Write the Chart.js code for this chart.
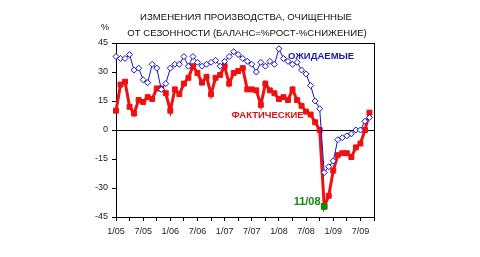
<!DOCTYPE html>
<html>
<head>
<meta charset="utf-8">
<script src="https://cdn.jsdelivr.net/npm/chart.js@4.4.1/dist/chart.umd.min.js"></script>
<style>
  html, body { margin: 0; padding: 0; background: #ffffff; }
  #wrap { width: 480px; height: 257px; position: relative; }
</style>
</head>
<body>
<div id="wrap"><canvas id="chart"></canvas></div>
<script>
// Monthly series, Jan 2005 .. Sep 2009 (axis runs one month further)
const FIRST_YEAR = 2005;
const MONTH_COUNT = 58;

const titleLines = [
    'ИЗМЕНЕНИЯ ПРОИЗВОДСТВА, ОЧИЩЕННЫЕ',
    'ОТ СЕЗОННОСТИ (БАЛАНС=%РОСТ-%СНИЖЕНИЕ)'
];

const tickLabels = ['1/05', '7/05', '1/06', '7/06', '1/07', '7/07', '1/08', '7/08', '1/09', '7/09'];

// Expected (blue diamonds)
const expected = [
    38, 37, 37, 39, 31, 32, 26, 24.5, 34, 32, 21, 24, 32, 34,
    34, 38, 33, 38, 35, 33, 34, 35, 36, 33, 35.5, 38, 40.5, 39,
    37, 35.5, 34, 30, 35, 33, 35.5, 34, 42, 37, 35.5, 34, 35, 31, 29, 23, 15, 11,
    -22, -19, -16, -5, -4, -3, -2, 0, 0, 4.5, 6.5
];

// Actual (red squares)
const actual = [
    10, 23.5, 25, 12, 8.5, 15.5, 14.5, 17, 16, 21.5, 21.5, 19, 10, 21,
    18.5, 24, 27, 33, 29.5, 24.5, 27.5, 18.5, 27, 28.5, 33, 24, 29.5, 30.5,
    32, 21, 21, 20.5, 13, 24, 20.5, 19, 16, 17, 15.5, 21, 15.5, 12.5, 9.5, 8, 4, 0,
    -39.5, -34, -21, -13, -12, -12, -14, -9, -7, 0, 9
];

// Low point marker
const lowLabel = '11/08';
const lowValue = -39.5;

// Text labels inside the plot: [text, month index, value, colour, align]
const annotations = [
    ['ОЖИДАЕМЫЕ', 38, 38, '#1a1aa0', 'left'],
    ['ФАКТИЧЕСКИЕ', 25.5, 7.8, '#e01010', 'left'],
    [lowLabel, 45.2, -37, '#118811', 'right']
];

const FONT = "'Liberation Sans', Arial, sans-serif";

function buildMonths() {
    const out = [];
    for (let i = 0; i < MONTH_COUNT; i++) {
        const m = (i % 12) + 1;
        const y = String(FIRST_YEAR + Math.floor(i / 12)).slice(2);
        out.push(m + '/' + y);
    }
    return out;
}

const months = buildMonths();
const lowData = months.map(m => (m === lowLabel ? lowValue : null));

// Title, "%" and in-plot text
const textPlugin = {
    id: 'texts',
    afterDraw(chart) {
        const ctx = chart.ctx;
        const xs = chart.scales.x;
        const ys = chart.scales.y;
        ctx.save();
        ctx.fillStyle = '#111';
        ctx.font = '9.6px ' + FONT;
        ctx.textAlign = 'center';
        ctx.textBaseline = 'middle';
        ctx.fillText(titleLines[0], 246, 17);
        ctx.fillText(titleLines[1], 247, 33);
        ctx.font = '9px ' + FONT;
        ctx.textAlign = 'right';
        ctx.fillText('%', 109, 28);

        annotations.forEach(a => {
            ctx.font = 'bold ' + (a[0] === lowLabel ? '11px ' : '9.5px ') + FONT;
            ctx.fillStyle = a[3];
            ctx.textAlign = a[4];
            ctx.fillText(a[0], xs.getPixelForValue(a[1]), ys.getPixelForValue(a[2]));
        });
        ctx.restore();
    }
};

new Chart(document.getElementById('chart'), {
    type: 'line',
    data: {
        labels: months,
        datasets: [
            {
                label: 'low',
                data: lowData,
                order: 0,
                showLine: false,
                pointStyle: 'rect',
                pointRadius: 4,
                pointBackgroundColor: '#0a8a0a',
                pointBorderColor: '#0a8a0a',
                pointBorderWidth: 1
            },
            {
                label: 'Ожидаемые',
                data: expected,
                order: 1,
                borderColor: '#1414c0',
                borderWidth: 1,
                pointStyle: 'rectRot',
                pointRadius: 3,
                pointBackgroundColor: '#ffffff',
                pointBorderColor: '#1414c0',
                pointBorderWidth: 1,
                tension: 0
            },
            {
                label: 'Фактические',
                data: actual,
                order: 2,
                borderColor: '#ee1111',
                borderWidth: 3,
                pointStyle: 'rect',
                pointRadius: 3.5,
                pointBackgroundColor: '#ee1111',
                pointBorderColor: '#ee1111',
                pointBorderWidth: 1,
                tension: 0
            }
        ]
    },
    options: {
        responsive: true,
        maintainAspectRatio: false,
        animation: false,
        layout: { padding: { top: 43, left: 0, right: 106, bottom: 0 } },
        plugins: {
            legend: { display: false },
            tooltip: { enabled: false }
        },
        scales: {
            x: {
                type: 'category',
                offset: false,
                afterFit: s => { s.height = 40; },
                border: { color: '#000', width: 1 },
                grid: {
                    drawOnChartArea: true,
                    color: c => (c.index === MONTH_COUNT - 1 ? '#000' : 'rgba(0,0,0,0)'),
                    tickColor: c => (c.index % 3 === 0 ? '#000' : 'rgba(0,0,0,0)'),
                    tickLength: 4
                },
                ticks: {
                    autoSkip: false,
                    maxRotation: 0,
                    padding: 5,
                    color: '#222',
                    font: { family: FONT, size: 9 },
                    callback: function(value) {
                        const lab = this.getLabelForValue(value);
                        return tickLabels.includes(lab) ? lab : '';
                    }
                }
            },
            y: {
                min: -45,
                max: 45,
                afterFit: s => { s.width = 116; },
                border: { color: '#000', width: 1 },
                grid: {
                    color: c => (c.tick.value === 0 || c.tick.value === 45 ? '#000' : 'rgba(0,0,0,0)'),
                    tickColor: '#000',
                    tickLength: 4
                },
                ticks: {
                    stepSize: 15,
                    padding: 4,
                    color: '#222',
                    font: { family: FONT, size: 9 }
                }
            }
        }
    },
    plugins: [textPlugin]
});
</script>
</body>
</html>
